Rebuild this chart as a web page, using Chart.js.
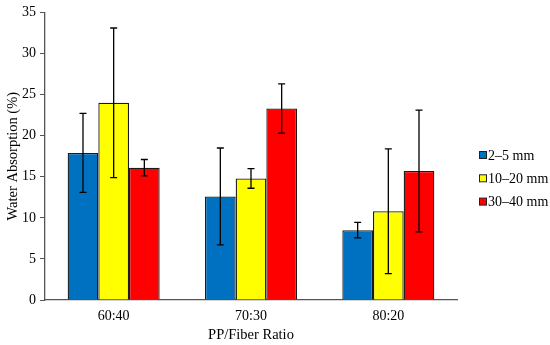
<!DOCTYPE html>
<html>
<head>
<meta charset="utf-8">
<script src="https://cdn.jsdelivr.net/npm/chart.js@4"></script>
<style>
  html, body { margin: 0; padding: 0; background: #fff; }
  canvas { display: block; }
</style>
</head>
<body>
<canvas id="absChart" width="550" height="345"></canvas>
<script>
const ratios = ["60:40", "70:30", "80:20"];
const lengths = ["2\u20135 mm", "10\u201320 mm", "30\u201340 mm"];
const colors = ["#0070C0", "#FFFF00", "#FF0000"];

// mean water absorption per fiber length
const short = [17.9, 12.6, 8.5];
const medium = [24.0, 14.8, 10.8];
const long = [16.1, 23.3, 15.7];

// standard deviations
const shortErr = [4.8, 5.9, 0.95];
const mediumErr = [9.1, 1.2, 7.6];
const longErr = [1.0, 3.0, 7.4];

const yTicks = [0, 5, 10, 15, 20, 25, 30, 35];

const serif = "'Liberation Serif', 'Times New Roman', serif";

const errorBars = {
  id: "errorBars",
  afterDatasetsDraw(chart) {
    const ctx = chart.ctx;
    const y = chart.scales.y;
    ctx.save();
    ctx.strokeStyle = "#000";
    ctx.lineWidth = 1.3;
    chart.data.datasets.forEach((ds, i) => {
      const meta = chart.getDatasetMeta(i);
      meta.data.forEach((bar, j) => {
        const v = ds.data[j];
        const e = ds.errors[j];
        const top = y.getPixelForValue(v + e);
        const bot = y.getPixelForValue(v - e);
        const x = bar.x;
        ctx.beginPath();
        ctx.moveTo(x, top); ctx.lineTo(x, bot);
        ctx.moveTo(x - 3.5, top); ctx.lineTo(x + 3.5, top);
        ctx.moveTo(x - 3.5, bot); ctx.lineTo(x + 3.5, bot);
        ctx.stroke();
      });
    });
    ctx.restore();
  }
};

// legend drawn to the right of the plot
const sideLegend = {
  id: "sideLegend",
  afterDraw(chart) {
    const ctx = chart.ctx;
    ctx.save();
    ctx.font = "14px " + serif;
    ctx.textBaseline = "middle";
    chart.data.datasets.forEach((ds, i) => {
      const yc = 155 + i * 23.3;
      ctx.fillStyle = ds.backgroundColor;
      ctx.fillRect(479.5, yc - 3.5, 7, 7);
      ctx.strokeStyle = "#222";
      ctx.lineWidth = 1;
      ctx.strokeRect(479.5, yc - 3.5, 7, 7);
      ctx.fillStyle = "#000";
      ctx.fillText(ds.label, 488, yc + 1);
    });
    ctx.restore();
  }
};

const seriesVals = [short, medium, long];
const seriesErrs = [shortErr, mediumErr, longErr];

new Chart(document.getElementById("absChart"), {
  type: "bar",
  data: {
    labels: ratios,
    datasets: lengths.map((name, i) => ({
      label: name,
      data: seriesVals[i],
      errors: seriesErrs[i],
      backgroundColor: colors[i],
      borderColor: "#1a1a1a",
      borderWidth: 1.3,
      categoryPercentage: 0.67,
      barPercentage: 1.0
    }))
  },
  options: {
    responsive: false,
    animation: false,
    devicePixelRatio: 1,
    layout: { padding: { top: 10, right: 93, left: 0, bottom: 0 } },
    plugins: {
      legend: { display: false },
      tooltip: { enabled: false }
    },
    scales: {
      x: {
        grid: { display: false, drawTicks: false },
        border: { display: true, color: "#555", width: 1.3 },
        ticks: { color: "#000", padding: 8, font: { family: serif, size: 14 } },
        title: {
          display: true,
          text: "PP/Fiber Ratio",
          color: "#000",
          padding: { top: 4, bottom: 1 },
          font: { family: serif, size: 14.5 }
        },
        afterFit(s) { s.height = 45; }
      },
      y: {
        min: 0,
        max: 35,
        afterBuildTicks(s) { s.ticks = yTicks.map(v => ({ value: v })); },
        grid: { drawOnChartArea: false, drawTicks: true, tickLength: 5, color: "#555" },
        border: { display: true, color: "#555", width: 1.3 },
        ticks: { color: "#000", padding: 4, autoSkip: false, font: { family: serif, size: 14 } },
        title: {
          display: true,
          text: "Water Absorption (%)",
          color: "#000",
          padding: { top: 4, bottom: 4 },
          font: { family: serif, size: 14.5 }
        },
        afterFit(s) { s.width = 45; }
      }
    }
  },
  plugins: [errorBars, sideLegend]
});
</script>
</body>
</html>
